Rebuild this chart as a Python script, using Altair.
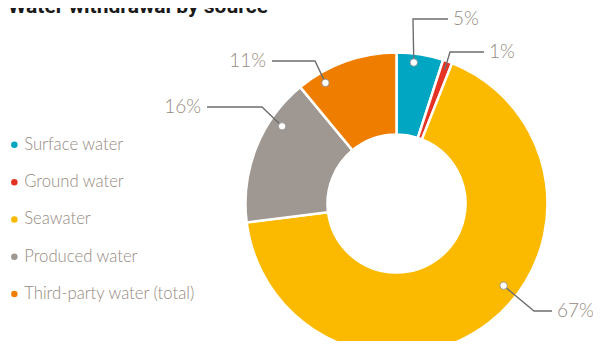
import altair as alt
import pandas as pd
import math

# ---- data ----
categories = ["Surface water", "Ground water", "Seawater", "Produced water", "Third-party water (total)"]
values = [5, 1, 67, 16, 11]
labels = ["5%", "1%", "67%", "16%", "11%"]
colors = ["#00a6c2", "#e43224", "#fbba00", "#9f9791", "#ef7d00"]

# ---- layout ----
W, H = 585, 333
CX, CY = 388.5, 195.5
R_OUT, R_IN = 151, 69
TEXT_COLOR = "#958a80"
LINE_COLOR = "#6e6e6e"

df = pd.DataFrame({"cat": categories, "value": values, "idx": list(range(len(values)))})

# leader-line annotation layout (dot polar angle/radius, elbow, end, label anchor side)
dot_angle = [7, 19.8, 127.5, 304, 329.5]
dot_rad = [142, 142, 135, 138, 140]
show_dot = [True, False, True, True, True]
elbow = [(405, 11), (442, 44), (526, 303), (254, 99), (307, 53)]
end = [(440, 11), (476, 44), (544, 303), (199, 99), (264, 53)]
side = ["left", "left", "left", "right", "right"]

line_rows, dot_rows, lab_rows = [], [], []
for i, c in enumerate(categories):
    a = math.radians(dot_angle[i])
    dx = CX + dot_rad[i] * math.sin(a)
    dy = CY - dot_rad[i] * math.cos(a)
    pts = [(dx, dy), elbow[i], end[i]]
    for k, (px, py) in enumerate(pts):
        line_rows.append({"cat": c, "k": k, "x": px, "y": py})
    if show_dot[i]:
        dot_rows.append({"cat": c, "x": dx, "y": dy})
    off = 5 if side[i] == "left" else -6
    lab_rows.append({"cat": c, "x": end[i][0] + off, "y": end[i][1], "label": labels[i], "side": side[i]})

lines_df = pd.DataFrame(line_rows)
dots_df = pd.DataFrame(dot_rows)
labs_df = pd.DataFrame(lab_rows)

xs = alt.Scale(domain=[0, W], range=[0, W], nice=False, zero=False)
ys = alt.Scale(domain=[0, H], range=[0, H], nice=False, zero=False)

donut = alt.Chart(df).mark_arc(
    outerRadius=R_OUT, innerRadius=R_IN, stroke="white", strokeWidth=2.5
).encode(
    theta=alt.Theta("value:Q", stack=True),
    order=alt.Order("idx:Q"),
    color=alt.Color(
        "cat:N",
        scale=alt.Scale(domain=categories, range=colors),
        sort=categories,
        legend=alt.Legend(
            title=None, orient="none", legendX=-2, legendY=128.5,
            symbolType="circle", symbolSize=42, symbolStrokeWidth=0,
            labelFont="Lato", labelFontWeight=300, labelFontSize=16.7,
            labelColor=TEXT_COLOR, labelOffset=1.5, rowPadding=19.3,
            labelLimit=300,
        ),
    ),
    x=alt.value(CX),
    y=alt.value(CY),
)

leaders = alt.Chart(lines_df).mark_line(color=LINE_COLOR, strokeWidth=1.4).encode(
    x=alt.X("x:Q", scale=xs, axis=None),
    y=alt.Y("y:Q", scale=ys, axis=None),
    detail="cat:N",
    order="k:Q",
)

dots = alt.Chart(dots_df).mark_point(
    filled=True, fill="white", stroke="#8a8a8a", strokeWidth=0.8, size=55, opacity=1
).encode(
    x=alt.X("x:Q", scale=xs, axis=None),
    y=alt.Y("y:Q", scale=ys, axis=None),
)

lab_left = alt.Chart(labs_df).transform_filter(alt.datum.side == "left").mark_text(
    align="left", baseline="middle", font="Lato", fontWeight=300, fontSize=19, color=TEXT_COLOR
).encode(
    x=alt.X("x:Q", scale=xs, axis=None),
    y=alt.Y("y:Q", scale=ys, axis=None),
    text="label:N",
)

lab_right = alt.Chart(labs_df).transform_filter(alt.datum.side == "right").mark_text(
    align="right", baseline="middle", font="Lato", fontWeight=300, fontSize=19, color=TEXT_COLOR
).encode(
    x=alt.X("x:Q", scale=xs, axis=None),
    y=alt.Y("y:Q", scale=ys, axis=None),
    text="label:N",
)

title_df = pd.DataFrame({"t": ["Water withdrawal by source"], "x": [0], "y": [5]})
title = alt.Chart(title_df).mark_text(
    align="left", baseline="alphabetic", font="Roboto", fontWeight="bold", fontSize=21, color="#1a1a1a"
).encode(
    x=alt.X("x:Q", scale=xs, axis=None),
    y=alt.Y("y:Q", scale=ys, axis=None),
    text="t:N",
)

chart = alt.layer(donut, leaders, dots, lab_left, lab_right, title).properties(
    width=W, height=H, padding=0, autosize=alt.AutoSizeParams(type="none")
).configure_view(stroke=None)

chart.save("out.html", embed_options={"renderer": "svg", "actions": False})
